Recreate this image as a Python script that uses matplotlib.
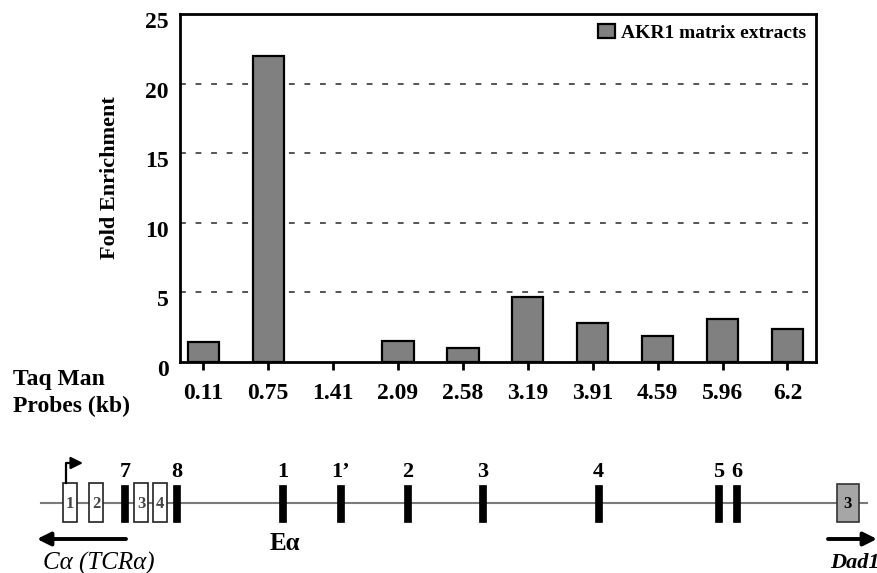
import matplotlib
matplotlib.use("Agg")
import matplotlib.pyplot as plt
from matplotlib.patches import Rectangle
from matplotlib.transforms import ScaledTranslation

# ---------------- data ----------------
probes = ["0.11", "0.75", "1.41", "2.09", "2.58", "3.19", "3.91", "4.59", "5.96", "6.2"]
fold_enrichment = [1.45, 22.0, 0.0, 1.5, 1.03, 4.7, 2.78, 1.9, 3.07, 2.35]
series_name = "AKR1 matrix extracts"
y_ticks = [0, 5, 10, 15, 20, 25]

# gene map (schematic, in map units)
open_exons = ["1", "2", "3", "4"]
open_exon_pos = [70, 96, 141.5, 160]
sites = ["7", "8", "1", "1\u2019", "2", "3", "4", "5", "6"]
site_pos = [125, 176.5, 283, 340.5, 407.5, 482.5, 598.5, 719, 736.5]
dad1_exon = "3"
dad1_pos = 848

plt.rcParams['font.family'] = ['Liberation Serif', 'DejaVu Serif']
plt.rcParams['font.weight'] = 'bold'

fig = plt.figure(figsize=(8.78, 5.73), dpi=100)
W, H = 878, 573

ax = fig.add_axes([180 / W, 1 - 362 / H, 636 / W, 348 / H])
x = list(range(len(probes)))
heights = [v if v > 0 else float('nan') for v in fold_enrichment]
bars = ax.bar(x, heights, width=0.48, color='#808080', edgecolor='black',
              linewidth=1.6, label=series_name, zorder=3)
ax.set_xlim(-0.36, 9.44)
ax.set_ylim(0, 25)
ax.set_yticks(y_ticks)
ax.set_yticklabels([str(t) for t in y_ticks], fontsize=17, fontweight='bold')
ax.set_xticks(x)
ax.set_xticklabels(probes, fontsize=17, fontweight='bold')
ax.tick_params(axis='x', direction='out', length=6, width=2, pad=9)
ax.tick_params(axis='y', length=0, pad=8)
ax.set_yticks([0], minor=True)
ax.tick_params(axis='y', which='minor', length=7, width=1.5)
for lbl in ax.get_yticklabels():
    lbl.set_transform(lbl.get_transform() + ScaledTranslation(0, -6 / 100, fig.dpi_scale_trans))
for yv in y_ticks[1:-1]:
    ax.axhline(yv, color='#555555', linestyle=(0, (3, 5)), linewidth=1.4, zorder=1)
for s in ax.spines.values():
    s.set_linewidth(2)

ax.set_ylabel("Fold Enrichment", fontsize=16, fontweight='bold')
ax.yaxis.set_label_coords(-0.110, 0.53)
ax.yaxis.label.set_va('center')

fig.legend(handles=[bars], labels=[series_name], loc='upper right',
           bbox_to_anchor=(806 / W, 1 - 24 / H), frameon=False,
           prop={'weight': 'bold', 'size': 14}, handlelength=0.9, handleheight=0.7,
           handletextpad=0.3, borderpad=0, borderaxespad=0)

fig.text(13 / W, 1 - 393 / H, "Taq Man\nProbes (kb)", ha='left', va='center',
         fontsize=17, fontweight='bold', linespacing=1.35)

# ---------------- gene map ----------------
ax2 = fig.add_axes([0, 0, 1, 1], zorder=-1)
ax2.set_xlim(0, W)
ax2.set_ylim(H, 0)
ax2.axis('off')

line_y = 503
ax2.plot([41, 867], [line_y, line_y], color='#7a7a7a', linewidth=1.5, zorder=1)

for lab, px in zip(open_exons, open_exon_pos):
    ax2.add_patch(Rectangle((px - 7, 483), 14, 39, facecolor='white',
                            edgecolor='#222222', linewidth=1.2, zorder=2))
    ax2.text(px, line_y + 1, lab, ha='center', va='center', fontsize=12,
             fontweight='bold', color='#444444', zorder=3)

for lab, px in zip(sites, site_pos):
    ax2.add_patch(Rectangle((px - 3.5, 485), 7, 37, facecolor='black',
                            edgecolor='black', linewidth=0.5, zorder=2))
    ax2.text(px, 472, lab, ha='center', va='center', fontsize=16, fontweight='bold')

ax2.add_patch(Rectangle((dad1_pos - 11, 484), 22, 38, facecolor='#a6a6a6',
                        edgecolor='#333333', linewidth=1.2, zorder=2))
ax2.text(dad1_pos, line_y + 1, dad1_exon, ha='center', va='center', fontsize=12,
         fontweight='bold', zorder=3)

# promoter arrow
ax2.plot([66, 66, 74], [483, 463, 463], color='black', linewidth=1.6)
ax2.annotate("", xy=(83, 463), xytext=(71, 463),
             arrowprops=dict(arrowstyle='-|>', color='black', lw=1.6,
                             mutation_scale=18, shrinkA=0, shrinkB=0))

# direction arrows
ax2.annotate("", xy=(37, 539), xytext=(126, 539),
             arrowprops=dict(arrowstyle='-|>', color='black', lw=2.8,
                             mutation_scale=20, shrinkA=0, shrinkB=0))
ax2.annotate("", xy=(877, 539), xytext=(828, 539),
             arrowprops=dict(arrowstyle='-|>', color='black', lw=2.8,
                             mutation_scale=20, shrinkA=0, shrinkB=0))

ax2.text(43, 563, "C\u03b1 (TCR\u03b1)", ha='left', va='center', fontsize=18,
         fontstyle='italic', fontweight='normal')
ax2.text(285, 543, "E\u03b1", ha='center', va='center', fontsize=18, fontweight='bold')
ax2.text(830, 563, "Dad1", ha='left', va='center', fontsize=16,
         fontstyle='italic', fontweight='bold')

fig.savefig("out.png", dpi=100)
